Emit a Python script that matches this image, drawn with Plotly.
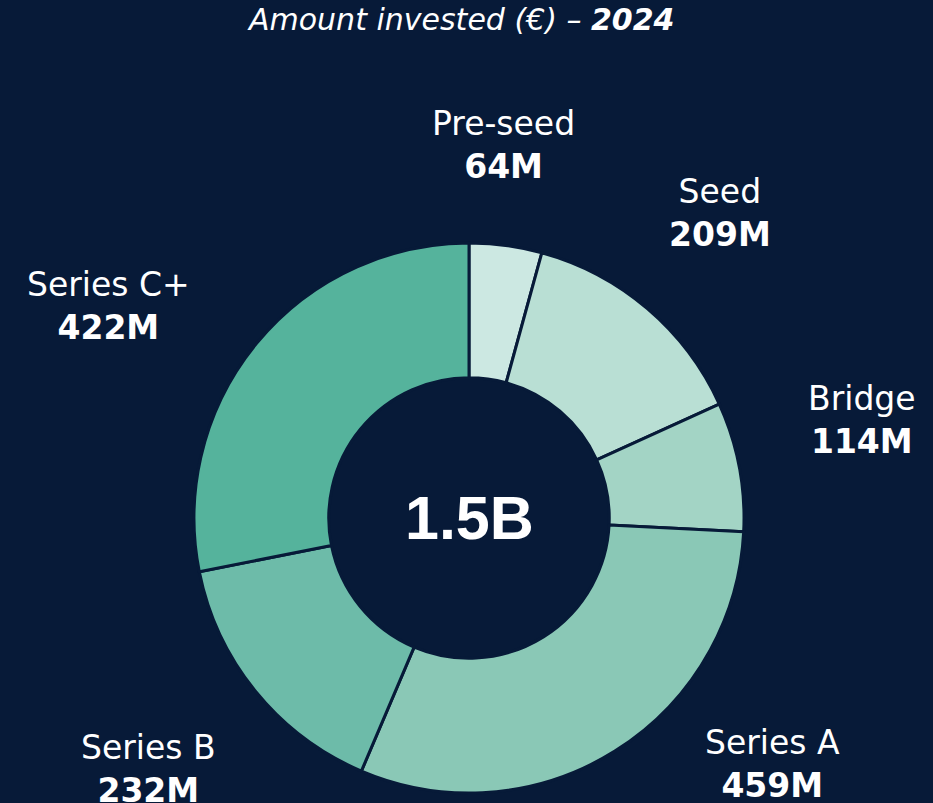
import plotly.graph_objects as go

# ---- data ----
stages = ["Pre-seed", "Seed", "Bridge", "Series A", "Series B", "Series C+"]
amounts_m = [64, 209, 114, 459, 232, 422]
total_label = "1.5B"
title_text = "Amount invested (€) – <b>2024</b>"

# ---- styles ----
W, H = 933, 803
BG = "#071a38"
colors = ["#cce8e2", "#b9dfd4", "#a3d4c5", "#8ac8b6", "#6dbba9", "#55b39c"]
FONT = "'DejaVu Sans', sans-serif"

# pie geometry in pixels
cx, cy, r = 469, 518, 275
# label anchor positions (pixels), one per stage
label_px = [(503, 145), (720, 213), (862, 420), (772, 764), (148, 769), (108, 306)]

fig = go.Figure(go.Pie(
    labels=stages,
    values=amounts_m,
    sort=False,
    direction="clockwise",
    rotation=0,
    hole=0.51,
    marker=dict(colors=colors, line=dict(color=BG, width=3)),
    textinfo="none",
    hoverinfo="label+value",
    showlegend=False,
    domain=dict(x=[(cx - r) / W, (cx + r) / W], y=[(H - cy - r) / H, (H - cy + r) / H]),
))

annotations = []
for name, val, (px, py) in zip(stages, amounts_m, label_px):
    annotations.append(dict(
        x=px / W, y=(H - py) / H, xref="paper", yref="paper",
        xanchor="center", yanchor="middle", showarrow=False,
        text=f"{name}<br><b>{val}M</b>", align="center",
        font=dict(family=FONT, size=33, color="white"),
    ))

annotations.append(dict(
    x=cx / W, y=(H - cy) / H, xref="paper", yref="paper",
    xanchor="center", yanchor="middle", showarrow=False,
    text=f"<b>{total_label}</b>",
    font=dict(family="'Liberation Sans', Arial, sans-serif", size=61, color="white"),
))

annotations.append(dict(
    x=460 / W, y=(H - 20) / H, xref="paper", yref="paper",
    xanchor="center", yanchor="middle", showarrow=False,
    text=f"<i>{title_text}</i>",
    font=dict(family=FONT, size=30, color="white"),
))

fig.update_layout(
    width=W, height=H,
    margin=dict(l=0, r=0, t=0, b=0),
    paper_bgcolor=BG, plot_bgcolor=BG,
    annotations=annotations,
)

fig.write_html(
    "out.html",
    config={"displayModeBar": False},
    post_script="document.body.style.margin='0';document.body.style.background='#071a38';",
)
